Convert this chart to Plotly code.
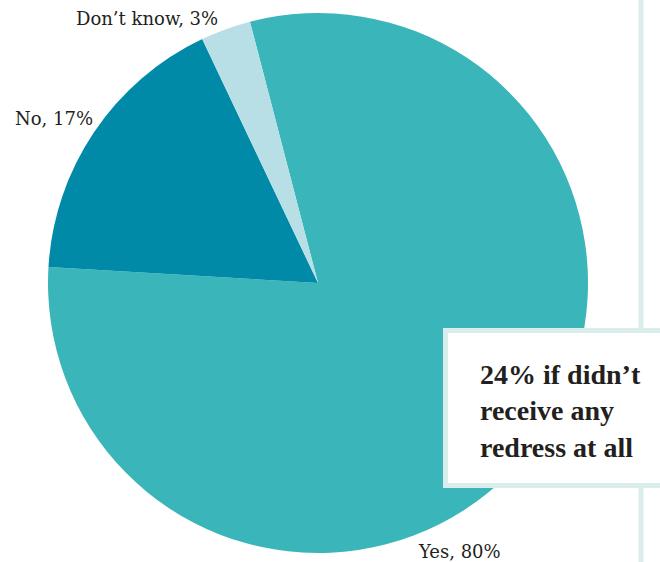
import plotly.graph_objects as go

labels = ["Yes", "No", "Don't know"]
values = [80, 17, 3]
colors = ["#3AB5B9", "#008AA8", "#B8DFE5"]
label_text = ["Yes, 80%", "No, 17%", "Don’t know, 3%"]
callout_lines = ["24% if didn’t", "receive any", "redress at all"]

W, H = 660, 562
cx, cy, r = 318, 283, 270

fig = go.Figure(go.Pie(
    labels=labels, values=values, sort=False, direction="clockwise",
    rotation=-14.6, textinfo="none", hoverinfo="label+percent",
    marker=dict(colors=colors, line=dict(width=0)),
    domain=dict(x=[(cx - r) / W, (cx + r) / W], y=[1 - (cy + r) / H, 1 - (cy - r) / H]),
    showlegend=False,
))

lab_font = "DejaVu Serif, Liberation Serif, serif"
box_font = "Liberation Serif, DejaVu Serif, serif"
pos = {"Yes, 80%": (459, 551), "No, 17%": (54, 118), "Don’t know, 3%": (147, 18)}
for t in label_text:
    x, y = pos[t]
    fig.add_annotation(x=x / W, y=1 - y / H, xref="paper", yref="paper", text=t,
                       showarrow=False, font=dict(family=lab_font, size=18, color="#231F20"),
                       xanchor="center", yanchor="middle")

line_col = "#DAEDED"
fig.add_shape(type="line", xref="paper", yref="paper", x0=641 / W, x1=641 / W, y0=0, y1=1,
              line=dict(color=line_col, width=5), layer="above")
fig.add_shape(type="rect", xref="paper", yref="paper", x0=445.5 / W, x1=670 / W,
              y0=1 - 485.5 / H, y1=1 - 330.5 / H,
              line=dict(color=line_col, width=5), fillcolor="white", layer="above")
fig.add_annotation(x=478 / W, y=1 - 411 / H, xref="paper", yref="paper",
                   text="<br>".join(callout_lines), showarrow=False, align="left",
                   xanchor="left", yanchor="middle",
                   font=dict(family=box_font, size=28, color="#231F20", weight="bold"))

fig.update_layout(width=W, height=H, margin=dict(l=0, r=0, t=0, b=0),
                  paper_bgcolor="white", plot_bgcolor="white")
fig.write_html("out.html", config={"displayModeBar": False},
               post_script="document.body.style.margin='0';")
